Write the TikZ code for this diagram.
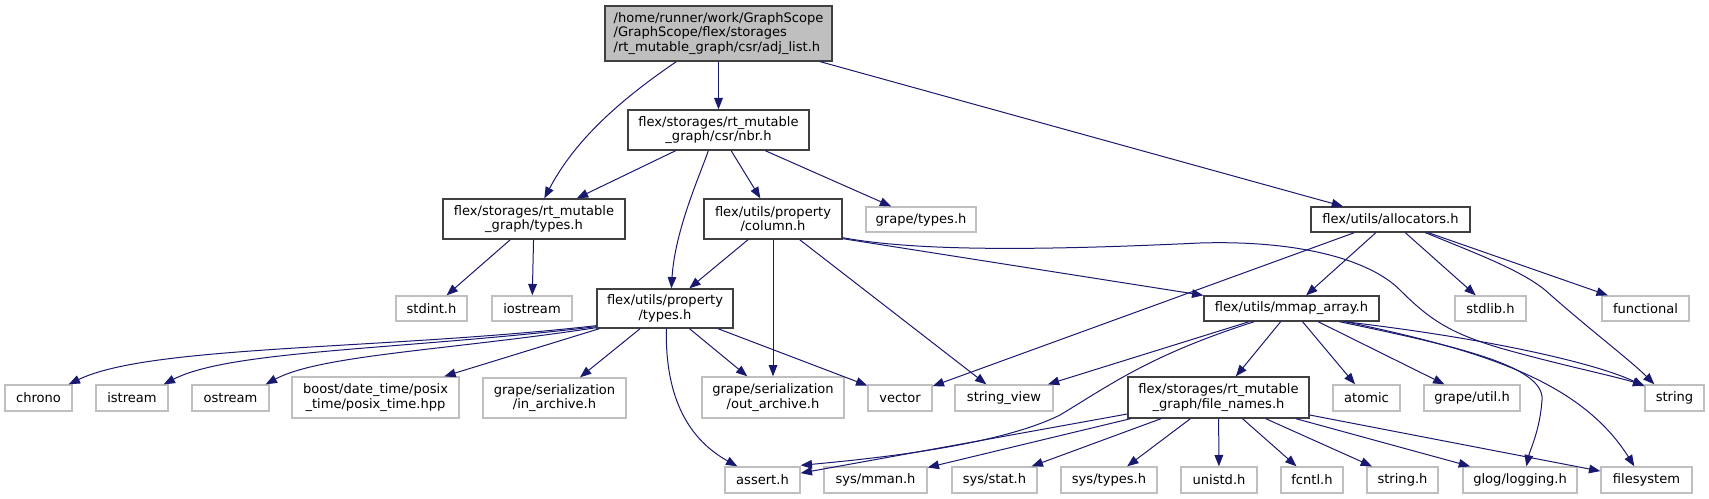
\documentclass[tikz,border=0pt]{standalone}
\usepackage{fontspec}
\setmainfont{DejaVu Sans}
\usetikzlibrary{arrows.meta,calc}
\definecolor{edgec}{HTML}{191970}
\definecolor{docb}{HTML}{404040}
\definecolor{extb}{HTML}{BFBFBF}
\definecolor{rootf}{HTML}{BFBFBF}
\newcommand{\dn}[7]{\node[#1, minimum width={(#5-#3)*0.75pt}, minimum height={(#6-#4)*0.75pt}] (#2) at ({(#3+#5)/2},{(#4+#6)/2}) {#7};}
\tikzset{
  base/.style={rectangle, inner sep=0pt, font=\fontsize{9.8}{11}\selectfont, align=center},
  docn/.style={base, draw=docb, fill=white, line width=1pt},
  extn/.style={base, draw=extb, fill=white, line width=1pt},
  rootn/.style={base, draw=docb, fill=rootf, line width=1pt, align=left},
  dep/.style={draw=edgec, line width=0.75pt, -{Triangle[length=8.5pt,width=6.5pt]}}
}
\begin{document}
\begin{tikzpicture}[x=0.75pt,y=-0.75pt]
\path[use as bounding box] (0,0) rectangle (1709,499);
% nodes
\dn{rootn}{root}{605}{6}{832}{61}{/home/runner/work/GraphScope\\/GraphScope/flex/storages\\/rt\_mutable\_graph/csr/adj\_list.h}
\dn{docn}{nbr}{628}{110}{809}{150}{flex/storages/rt\_mutable\\\_graph/csr/nbr.h}
\dn{docn}{rtt}{443}{199}{625}{239}{flex/storages/rt\_mutable\\\_graph/types.h}
\dn{docn}{col}{704}{199}{842}{239}{flex/utils/property\\/column.h}
\dn{extn}{gtypes}{866}{207}{976}{232}{grape/types.h}
\dn{docn}{alloc}{1311}{207}{1470}{232}{flex/utils/allocators.h}
\dn{extn}{stdint}{396}{296}{467}{321}{stdint.h}
\dn{extn}{iostream}{492}{296}{572}{321}{iostream}
\dn{docn}{prop}{597}{289}{733}{328}{flex/utils/property\\/types.h}
\dn{docn}{mmap}{1204}{296}{1379}{321}{flex/utils/mmap\_array.h}
\dn{extn}{stdlib}{1455}{296}{1526}{321}{stdlib.h}
\dn{extn}{functional}{1602}{296}{1689}{321}{functional}
\dn{extn}{chrono}{5}{385}{72}{411}{chrono}
\dn{extn}{istream}{96}{385}{168}{411}{istream}
\dn{extn}{ostream}{192}{385}{269}{411}{ostream}
\dn{extn}{boost}{292}{377}{459}{418}{boost/date\_time/posix\\\_time/posix\_time.hpp}
\dn{extn}{inarch}{483}{378}{626}{418}{grape/serialization\\/in\_archive.h}
\dn{extn}{outarch}{702}{377}{844}{418}{grape/serialization\\/out\_archive.h}
\dn{extn}{vector}{868}{385}{932}{411}{vector}
\dn{extn}{strview}{955}{385}{1053}{411}{string\_view}
\dn{docn}{filen}{1128}{377}{1309}{418}{flex/storages/rt\_mutable\\\_graph/file\_names.h}
\dn{extn}{atomic}{1333}{385}{1400}{411}{atomic}
\dn{extn}{gutil}{1424}{385}{1520}{411}{grape/util.h}
\dn{extn}{string}{1645}{385}{1704}{411}{string}
\dn{extn}{assert}{725}{467}{800}{493}{assert.h}
\dn{extn}{sysmman}{824}{467}{927}{493}{sys/mman.h}
\dn{extn}{sysstat}{952}{467}{1037}{493}{sys/stat.h}
\dn{extn}{systypes}{1061}{467}{1157}{493}{sys/types.h}
\dn{extn}{unistd}{1181}{467}{1257}{493}{unistd.h}
\dn{extn}{fcntl}{1281}{467}{1343}{493}{fcntl.h}
\dn{extn}{stringh}{1367}{467}{1438}{493}{string.h}
\dn{extn}{glog}{1463}{467}{1577}{493}{glog/logging.h}
\dn{extn}{filesys}{1601}{467}{1692}{493}{filesystem}
% root
\draw[dep] ($(root.south west)+(72,0)$) .. controls (620,100) and (575,140) .. ($(rtt.north west)+(102,0)$);
\draw[dep] (root) -- (nbr);
\draw[dep] (root) -- (alloc);
% nbr
\draw[dep] (nbr) -- (rtt);
\draw[dep] ($(nbr.south west)+(81,0)$) .. controls (700,175) and (675,230) .. ($(prop.north west)+(75,0)$);
\draw[dep] (nbr) -- (col);
\draw[dep] (nbr) -- (gtypes);
% rt types
\draw[dep] (rtt) -- (stdint);
\draw[dep] (rtt) -- (iostream);
% column
\draw[dep] (col) -- (prop);
\draw[dep] (col) -- (outarch);
\draw[dep] (col) -- (strview);
\draw[dep] ($(col.south east)+(0,-1)$) -- (mmap.north west);
\draw[dep] ($(col.south east)+(0,-2)$) .. controls (920,252) and (1050,250) .. (1200,243)
   .. controls (1300,240) and (1370,260) .. (1400,290)
   .. controls (1430,320) and (1450,333) .. (1500,348)
   .. controls (1560,365) and (1610,375) .. ($(string.north west)+(0,1)$);
% property types
\draw[dep] ($(prop.south west)+(0,-3)$) .. controls (380,350) and (150,345) .. ($(chrono.north east)+(-4,0)$);
\draw[dep] ($(prop.south west)+(0,-2)$) .. controls (400,350) and (230,350) .. ($(istream.north east)+(-5,0)$);
\draw[dep] ($(prop.south west)+(0,-1)$) .. controls (450,350) and (320,355) .. ($(ostream.north east)+(-4,0)$);
\draw[dep] (prop) -- (boost);
\draw[dep] (prop) -- (inarch);
\draw[dep] (prop) -- (outarch);
\draw[dep] (prop) -- (vector);
\draw[dep] ($(prop.south west)+(70,0)$) .. controls (665,400) and (690,440) .. ($(assert.north west)+(13,0)$);
% allocators
\draw[dep] (alloc) -- (vector);
\draw[dep] (alloc) -- (mmap);
\draw[dep] (alloc) -- (stdlib);
\draw[dep] (alloc) -- (functional);
\draw[dep] ($(alloc.south west)+(115,0)$) .. controls (1480,255) and (1520,270) .. (1545,290)
   .. controls (1590,330) and (1630,360) .. ($(string.north west)+(10,0)$);
% mmap array
\draw[dep] (mmap) -- (strview);
\draw[dep] (mmap) -- (filen);
\draw[dep] (mmap) -- (atomic);
\draw[dep] (mmap) -- (gutil);
\draw[dep] ($(mmap.south west)+(141,0)$) .. controls (1500,340) and (1600,365) .. ($(string.north west)+(0,2)$);
\draw[dep] ($(mmap.south west)+(51,0)$) .. controls (1150,355) and (1110,385) .. (1060,415)
   .. controls (1000,445) and (880,458) .. ($(assert.north east)+(0,-1)$);
\draw[dep] ($(mmap.south west)+(136,0)$) .. controls (1450,345) and (1545,365) .. (1542,400)
   .. controls (1540,430) and (1530,450) .. ($(glog.north west)+(64,0)$);
\draw[dep] ($(mmap.south west)+(142,0)$) .. controls (1480,350) and (1580,380) .. ($(filesys.north west)+(34,0)$);
% file names
\draw[dep] (filen) -- (assert);
\draw[dep] (filen) -- (sysmman);
\draw[dep] (filen) -- (sysstat);
\draw[dep] (filen) -- (systypes);
\draw[dep] (filen) -- (unistd);
\draw[dep] (filen) -- (fcntl);
\draw[dep] (filen) -- (stringh);
\draw[dep] (filen) -- (glog);
\draw[dep] (filen) -- (filesys);
\end{tikzpicture}
\end{document}
